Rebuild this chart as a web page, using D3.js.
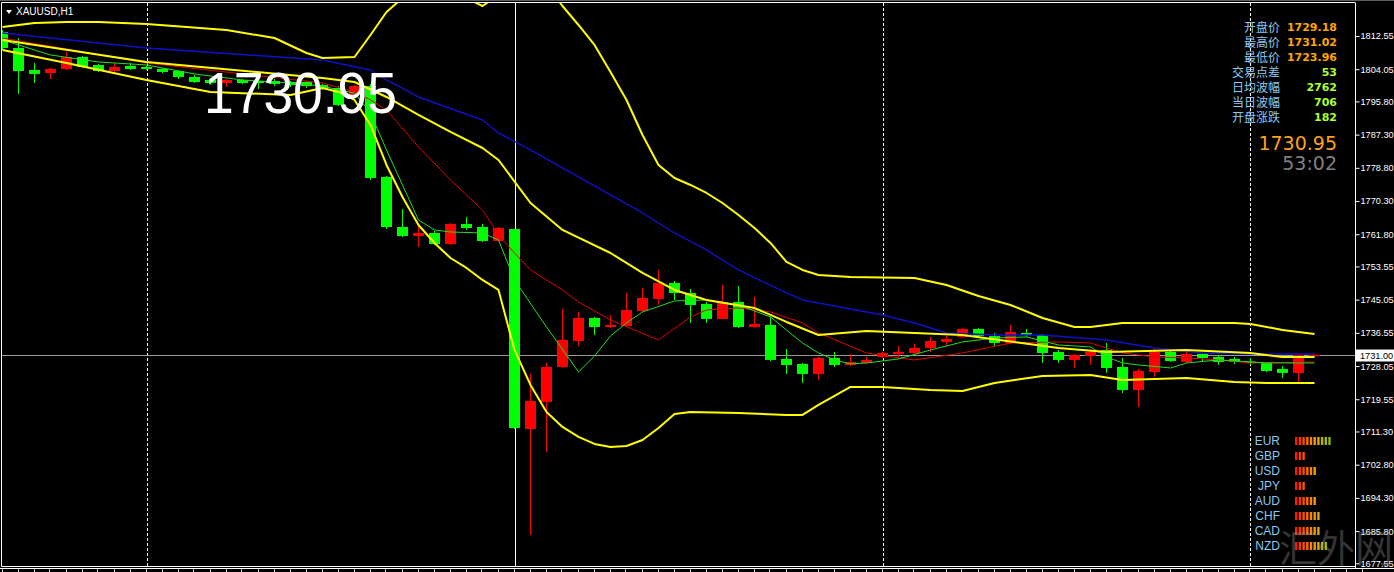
<!DOCTYPE html>
<html><head><meta charset="utf-8">
<script src="https://cdn.jsdelivr.net/npm/d3@7"></script>
<style>html,body{margin:0;padding:0;background:#000;overflow:hidden}svg{display:block}</style>
</head><body><svg id="c" width="1394" height="572"></svg>
<script>
// ---------- DATA ----------
const symbolLabel = "XAUUSD,H1";
const openP = [1813.58,1809.48,1803.85,1803.08,1804.11,1807.18,1805.13,1803.59,1804.87,1804.62,1804.11,1803.59,1802.06,1801.29,1800.52,1801.29,1801.03,1801.03,1800.78,1800.78,1800.01,1799.24,1797.45,1799.75,1776.46,1763.65,1761.35,1762.12,1759.31,1764.43,1763.65,1760.07,1763.15,1711.95,1718.86,1727.82,1734.47,1740.36,1738.06,1738.31,1742.15,1745.23,1749.32,1746.76,1743.95,1740.11,1744.46,1738.06,1738.57,1729.87,1728.59,1726.03,1730.12,1728.33,1728.84,1730.38,1731.15,1731.40,1732.68,1734.22,1735.50,1737.55,1735.75,1733.96,1736.52,1736.01,1731.66,1729.61,1730.63,1732.17,1727.82,1721.93,1726.54,1731.66,1729.10,1731.15,1730.38,1729.87,1729.18,1728.84,1727.31,1726.29,1730.89];
const highP = [1814.09,1812.04,1805.64,1804.36,1808.46,1807.43,1805.39,1805.64,1805.64,1804.87,1804.36,1803.85,1802.57,1801.80,1801.55,1801.55,1801.29,1801.55,1801.03,1801.03,1800.27,1799.75,1800.01,1800.27,1776.71,1768.27,1764.43,1762.63,1764.68,1766.22,1764.43,1763.65,1763.15,1726.03,1728.84,1742.67,1741.90,1740.62,1741.13,1746.76,1748.04,1752.65,1749.83,1747.79,1744.46,1748.81,1748.55,1745.74,1740.62,1732.43,1728.84,1730.38,1731.66,1731.15,1730.38,1731.66,1733.19,1733.71,1735.50,1735.75,1737.80,1737.80,1736.52,1738.57,1737.55,1736.27,1732.17,1731.15,1732.43,1733.96,1730.12,1727.31,1732.68,1732.43,1731.91,1731.40,1730.89,1730.38,1730.12,1729.10,1728.07,1731.02,1730.98];
const lowP = [1808.97,1797.71,1800.52,1801.55,1803.85,1804.36,1803.34,1803.34,1803.85,1803.85,1803.08,1801.55,1800.52,1800.01,1799.50,1800.27,1798.99,1799.75,1799.50,1799.24,1798.73,1794.63,1796.94,1775.69,1763.15,1761.10,1758.54,1759.05,1759.05,1762.89,1759.82,1759.82,1711.95,1684.81,1706.06,1727.56,1733.19,1736.01,1737.80,1738.06,1741.90,1743.69,1744.97,1739.08,1739.08,1743.69,1737.80,1737.80,1729.35,1726.03,1723.72,1724.49,1727.82,1728.07,1728.59,1730.12,1730.38,1731.15,1731.66,1733.19,1735.24,1735.50,1732.94,1733.71,1735.50,1728.84,1728.84,1727.56,1728.33,1726.29,1721.16,1717.58,1725.26,1729.10,1728.84,1729.10,1728.33,1728.59,1728.33,1726.54,1725.00,1723.96,1730.80];
const closeP = [1809.48,1803.59,1802.83,1804.11,1807.18,1804.62,1803.59,1804.62,1804.11,1804.11,1803.34,1802.06,1800.78,1800.52,1801.29,1800.52,1800.52,1800.27,1800.01,1799.75,1798.99,1794.89,1799.75,1776.20,1763.65,1761.35,1762.12,1759.31,1764.43,1763.40,1760.07,1763.40,1712.20,1719.11,1727.82,1734.73,1740.36,1738.06,1738.57,1742.41,1745.48,1749.32,1746.76,1743.69,1740.11,1744.20,1738.06,1738.83,1729.61,1728.33,1726.03,1730.12,1728.33,1729.10,1729.61,1731.40,1731.66,1732.68,1734.47,1734.99,1737.55,1735.75,1733.96,1736.78,1736.01,1731.40,1729.61,1730.89,1731.66,1727.56,1721.93,1726.79,1731.66,1729.35,1731.15,1730.12,1729.10,1729.10,1728.84,1726.79,1726.29,1730.89,1730.95];

// indicator lines: [bar index, price]
const bbUpper = [[0,1814.86],[2,1815.88],[4,1816.14],[6,1816.14],[9,1815.63],[14,1814.09],[17,1812.04],[19,1808.20],[20,1806.92],[22,1807.18],[23,1812.81],[24,1818.70],[25,1822.28],[26,1824.33],[28,1824.33],[30,1820.23],[31,1823.05],[32,1832.01],[33,1832.01],[34,1825.61],[35,1820.23],[36,1815.37],[37,1810.25],[38,1803.34],[39,1796.17],[40,1787.21],[41,1779.53],[42,1776.20],[43,1774.41],[44,1772.36],[45,1769.80],[46,1766.73],[47,1763.40],[48,1759.56],[49,1754.70],[50,1752.65],[51,1751.37],[53,1750.86],[57,1750.60],[59,1748.81],[61,1745.99],[63,1743.69],[65,1740.36],[67,1738.06],[68,1738.06],[70,1739.08],[77,1739.08],[78,1738.83],[80,1737.30],[82,1736.27]];
const bbMiddle = [[0,1811.53],[9,1805.90],[20,1801.80],[22,1800.78],[24,1796.94],[26,1792.33],[28,1787.98],[30,1783.88],[31,1780.81],[33,1769.80],[35,1762.89],[38,1757.00],[40,1751.88],[42,1747.53],[44,1744.97],[47,1742.92],[49,1739.34],[51,1736.01],[54,1737.03],[60,1736.01],[66,1732.68],[69,1731.66],[74,1732.17],[78,1731.40],[80,1730.38],[82,1730.38]];
const bbLower = [[0,1808.97],[4,1805.64],[9,1801.29],[13,1798.22],[18,1797.45],[20,1799.24],[21,1798.22],[22,1796.17],[23,1789.77],[24,1779.53],[25,1771.34],[26,1764.17],[27,1759.56],[28,1755.72],[29,1753.16],[30,1750.09],[31,1747.53],[32,1732.17],[33,1723.21],[34,1716.30],[35,1712.46],[36,1709.90],[37,1708.11],[38,1707.34],[39,1707.59],[40,1709.13],[41,1712.20],[42,1715.78],[43,1716.30],[46,1716.04],[49,1715.53],[50,1715.53],[51,1718.09],[52,1720.39],[53,1722.70],[55,1722.70],[58,1721.93],[60,1721.67],[62,1723.72],[65,1725.51],[68,1725.77],[70,1724.49],[72,1724.75],[74,1725.00],[77,1723.98],[79,1723.72],[82,1723.72]];
const maBlue = [[0,1813.32],[9,1809.48],[20,1806.41],[23,1803.85],[24,1801.29],[26,1796.94],[30,1791.05],[31,1787.72],[33,1783.37],[36,1776.46],[40,1767.24],[42,1762.12],[44,1757.77],[46,1752.65],[49,1746.76],[50,1744.97],[55,1741.13],[57,1739.08],[59,1736.52],[62,1736.01],[65,1736.01],[69,1734.73],[72,1732.68],[75,1731.40],[78,1731.15],[82,1731.15]];
const maRed = [[0,1812.04],[9,1805.64],[20,1800.52],[22,1798.22],[23,1796.17],[24,1793.61],[26,1784.14],[28,1775.69],[30,1768.01],[31,1761.61],[32,1757.00],[33,1752.65],[35,1747.53],[36,1744.46],[38,1739.85],[41,1734.73],[43,1740.62],[44,1742.41],[46,1742.92],[48,1741.90],[50,1739.08],[51,1736.52],[54,1731.40],[56,1730.12],[57,1729.61],[60,1731.40],[63,1733.96],[66,1734.22],[68,1733.96],[70,1731.40],[72,1730.38],[74,1730.12],[76,1729.61],[78,1728.84],[82,1729.10]];
const maGreen = [[0,1811.53],[3,1807.69],[6,1805.90],[9,1805.13],[12,1802.83],[15,1801.29],[18,1800.52],[20,1799.75],[21,1798.73],[22,1797.96],[23,1792.84],[24,1783.37],[26,1765.45],[27,1762.89],[28,1762.37],[30,1762.12],[31,1760.33],[32,1750.09],[34,1738.06],[36,1726.54],[37,1730.61],[38,1735.75],[39,1739.08],[40,1741.90],[42,1744.71],[44,1744.97],[46,1743.69],[48,1740.62],[49,1737.29],[50,1733.96],[51,1731.40],[52,1729.61],[53,1728.59],[54,1728.84],[56,1729.87],[58,1732.17],[60,1734.22],[62,1735.24],[64,1735.50],[66,1733.45],[68,1732.94],[69,1730.38],[70,1728.84],[71,1728.33],[73,1727.56],[74,1728.84],[76,1729.61],[78,1729.10],[79,1728.84],[82,1728.84]];

const priceTicks = [1812.55,1804.05,1795.80,1787.30,1778.80,1770.30,1761.80,1753.55,1745.05,1736.55,1728.05,1719.55,1711.30,1702.80,1694.30,1685.80,1677.55];
const currentPrice = 1731.00;
const bigPrice = "1730.95";
const daySeparators = [9, 55, 78];
const markerBar = 32;

const infoLabels = ["开盘价","最高价","最低价","交易点差","日均波幅","当日波幅","开盘涨跌"];
const infoValues = ["1729.18","1731.02","1723.96","53","2762","706","182"];
const infoColors = ["#ffa500","#ffa500","#ffa500","#adff2f","#adff2f","#adff2f","#adff2f"];
const timerText = "53:02";

const currencies = ["EUR","GBP","USD","JPY","AUD","CHF","CAD","NZD"];
const strength = [10,3,6,3,6,7,7,9];
const segColors = ["#ff1a00","#ff3300","#ff5000","#ff6a00","#ff8400","#f09a00","#d8a800","#bcb400","#a0b800","#84b800"];

// ---------- CHART ----------
const svg = d3.select("#c");
const W = 1394, H = 572;
const P = {left:2, right:1355, top:3, bottom:566};
svg.append("rect").attr("width",W).attr("height",H).attr("fill","#000");

const x = d3.scaleLinear().domain([0,82]).range([2.5,1314.5]);
const y = d3.scaleLinear().domain([1677.55,1812.55]).range([563.3,36]);

svg.append("clipPath").attr("id","clip").append("rect")
  .attr("x",P.left).attr("y",P.top).attr("width",P.right-P.left).attr("height",P.bottom-P.top);
const g = svg.append("g").attr("clip-path","url(#clip)");

// separators
g.selectAll("line.sep").data(daySeparators).join("line")
  .attr("x1",d=>Math.round(x(d))+0.5).attr("x2",d=>Math.round(x(d))+0.5)
  .attr("y1",P.top).attr("y2",P.bottom)
  .attr("stroke","#fff").attr("stroke-width",1).attr("stroke-dasharray","3,2");

// current price line
g.append("line").attr("x1",0).attr("x2",P.right)
  .attr("y1",Math.round(y(currentPrice))+0.5).attr("y2",Math.round(y(currentPrice))+0.5)
  .attr("stroke","#9a9a9a").attr("stroke-width",1);

// marker vertical line
g.append("line").attr("x1",Math.round(x(markerBar))+0.5).attr("x2",Math.round(x(markerBar))+0.5)
  .attr("y1",P.top).attr("y2",P.bottom).attr("stroke","#fff").attr("stroke-width",1);

// candles
const idx = d3.range(openP.length);
const col = i => closeP[i] >= openP[i] ? "#ff0000" : "#00ff00";
g.selectAll("line.wick").data(idx).join("line")
  .attr("x1",i=>x(i)).attr("x2",i=>x(i))
  .attr("y1",i=>y(highP[i])).attr("y2",i=>y(lowP[i]))
  .attr("stroke",col).attr("stroke-width",1);
g.selectAll("rect.body").data(idx).join("rect")
  .attr("x",i=>x(i)-5.5).attr("width",11)
  .attr("y",i=>y(Math.max(openP[i],closeP[i])))
  .attr("height",i=>Math.max(1.5,Math.abs(y(openP[i])-y(closeP[i]))))
  .attr("fill",col);

// indicator lines
const line = d3.line().x(d=>x(d[0])).y(d=>y(d[1]));
const drawLine = (data,color,w)=>g.append("path").datum(data).attr("d",line)
  .attr("fill","none").attr("stroke",color).attr("stroke-width",w).attr("stroke-linejoin","round");
drawLine(maBlue,"#1010c8",1.4);
drawLine(maRed,"#e00000",1);
drawLine(maGreen,"#20e020",1);
drawLine(bbUpper,"#ffff00",2);
drawLine(bbMiddle,"#ffff00",2);
drawLine(bbLower,"#ffff00",2);

// big price text
g.append("text").attr("x",204).attr("y",113).text(bigPrice)
  .attr("fill","#fff").attr("font-family","Liberation Sans, Arial, sans-serif")
  .attr("font-size",57).attr("textLength",193).attr("lengthAdjust","spacingAndGlyphs");

// frame
svg.append("rect").attr("x",0).attr("y",0).attr("width",W).attr("height",1).attr("fill","#606060");
svg.append("line").attr("x1",1.5).attr("x2",P.right).attr("y1",2.5).attr("y2",2.5).attr("stroke","#fff");
svg.append("line").attr("x1",1.5).attr("x2",1.5).attr("y1",2.5).attr("y2",P.bottom+0.5).attr("stroke","#fff");
svg.append("line").attr("x1",1.5).attr("x2",P.right).attr("y1",P.bottom+0.5).attr("y2",P.bottom+0.5).attr("stroke","#fff");
svg.append("line").attr("x1",0).attr("x2",W).attr("y1",568.5).attr("y2",568.5).attr("stroke","#fff");

// right axis
const axis = d3.axisRight(y).tickValues(priceTicks).tickFormat(d3.format(".2f")).tickSize(4).tickPadding(1);
const ag = svg.append("g").attr("transform",`translate(${P.right+0.5},0)`).call(axis);
ag.select(".domain").attr("stroke","#fff").attr("d",`M0,2.5V${P.bottom+2}`);
ag.selectAll(".tick line").attr("stroke","#fff");
ag.selectAll(".tick text").attr("fill","#fff").attr("font-family","Liberation Sans, Arial, sans-serif")
  .attr("font-size",9.2);

// current price label box
const cpY = Math.round(y(currentPrice))+0.5;
svg.append("rect").attr("x",P.right+1).attr("y",cpY-6).attr("width",W-P.right).attr("height",12).attr("fill","#fff");
svg.append("text").attr("x",P.right+5).attr("y",cpY).attr("dy","0.35em").text(currentPrice.toFixed(2))
  .attr("fill","#000").attr("font-family","Liberation Sans, Arial, sans-serif").attr("font-size",9.2);

// bottom time ticks
svg.selectAll("line.tt").data(d3.range(0,86)).join("line")
  .attr("x1",i=>Math.round(x(i))-0.5).attr("x2",i=>Math.round(x(i))-0.5)
  .attr("y1",569).attr("y2",572).attr("stroke","#c0c0c0");

// symbol label
svg.append("path").attr("d","M6,10L12,10L9,14Z").attr("fill","#fff");
svg.append("text").attr("x",16).attr("y",15).text(symbolLabel)
  .attr("fill","#fff").attr("font-family","Liberation Sans, Arial, sans-serif").attr("font-size",10);

// info panel
const rowY = i => 27.5 + i*15;
svg.selectAll("text.il").data(infoLabels).join("text")
  .attr("x",1280).attr("y",(d,i)=>rowY(i)).attr("dy","0.36em").attr("text-anchor","end")
  .text(d=>d).attr("fill","#8cc8f0").attr("font-family","Noto Sans CJK SC").attr("font-size",12);
svg.selectAll("text.iv").data(infoValues).join("text")
  .attr("x",1337).attr("y",(d,i)=>rowY(i)).attr("dy","0.36em").attr("text-anchor","end")
  .text(d=>d).attr("fill",(d,i)=>infoColors[i]).attr("font-family","DejaVu Sans").attr("font-weight","bold").attr("font-size",11);
svg.append("text").attr("x",1337).attr("y",150).attr("text-anchor","end").text(bigPrice)
  .attr("fill","#ffa01e").attr("font-family","DejaVu Sans").attr("font-size",19);
svg.append("text").attr("x",1337).attr("y",170).attr("text-anchor","end").text(timerText)
  .attr("fill","#808080").attr("font-family","DejaVu Sans").attr("font-size",19);

// currency strength
const cg = svg.append("g");
currencies.forEach((c,i)=>{
  const cy = 441 + i*15;
  cg.append("text").attr("x",1280).attr("y",cy).attr("dy","0.36em").attr("text-anchor","end")
    .text(c).attr("fill","#8cc8f0").attr("font-family","Liberation Sans, Arial, sans-serif").attr("font-size",12);
  cg.selectAll(null).data(d3.range(strength[i])).join("rect")
    .attr("x",k=>1295+k*3.7).attr("y",cy-4).attr("width",2.4).attr("height",8)
    .attr("fill",k=>segColors[k]);
});

// watermark
svg.append("text").attr("x",1336).attr("y",562).attr("text-anchor","middle").text("汇外网")
  .attr("fill","#9a9a9a").attr("fill-opacity",0.35).attr("font-family","Noto Sans CJK SC").attr("font-size",38);
</script></body></html>
